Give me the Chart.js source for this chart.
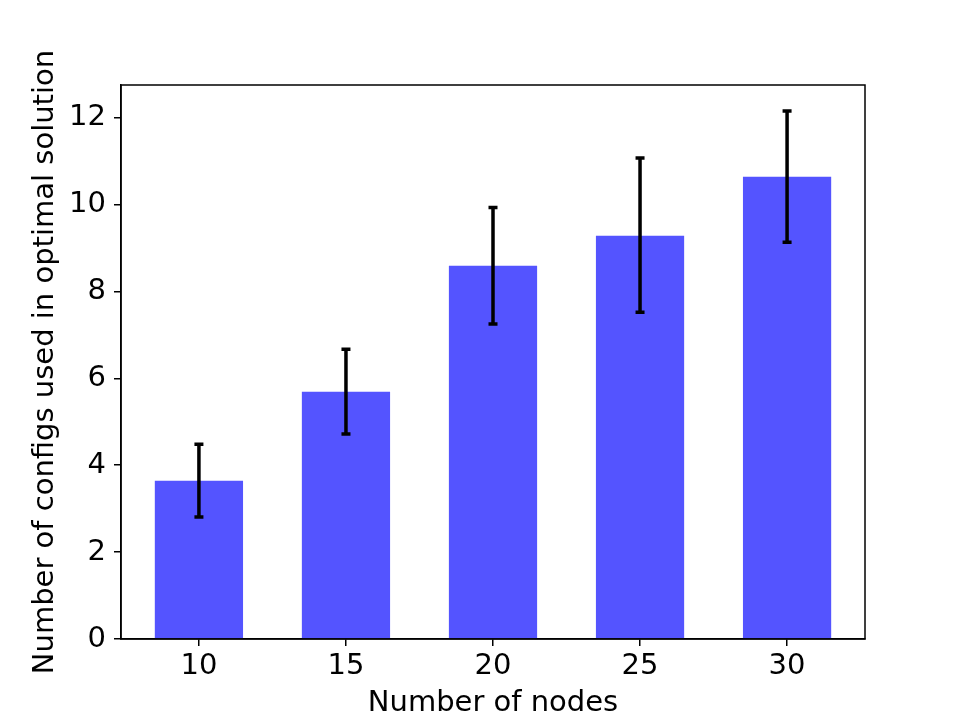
<!DOCTYPE html>
<html>
<head>
<meta charset="utf-8">
<script src="https://cdn.jsdelivr.net/npm/chart.js@4"></script>
<style>
  body { margin: 0; background: #fff; }
  #wrap { width: 961px; height: 719px; }
</style>
</head>
<body>
<div id="wrap"><canvas id="myChart" width="961" height="719"></canvas></div>
<script>
// Datos del gráfico
var nodos = ['10', '15', '20', '25', '30'];
var medias = [3.64, 5.69, 8.59, 9.28, 10.64];
var errSup = [4.48, 6.67, 9.93, 11.07, 12.15];
var errInf = [2.81, 4.72, 7.25, 7.52, 9.13];
var ticksY = [0, 2, 4, 6, 8, 10, 12];

var fuente = 'DejaVu Sans';

// Barras de error y marco completo
var pluginErrores = {
    id: 'errores',
    afterDatasetsDraw: function (chart) {
        var ctx = chart.ctx;
        var x = chart.scales.x;
        var y = chart.scales.y;
        ctx.save();
        ctx.strokeStyle = '#000';
        ctx.lineWidth = 3.5;
        ctx.lineCap = 'butt';
        for (var i = 0; i < medias.length; i++) {
            var px = x.getPixelForValue(i);
            var yTop = y.getPixelForValue(errSup[i]);
            var yBot = y.getPixelForValue(errInf[i]);
            ctx.beginPath();
            ctx.moveTo(px, yTop);
            ctx.lineTo(px, yBot);
            ctx.moveTo(px - 4.5, yTop);
            ctx.lineTo(px + 4.5, yTop);
            ctx.moveTo(px - 4.5, yBot);
            ctx.lineTo(px + 4.5, yBot);
            ctx.stroke();
        }
        var a = chart.chartArea;
        ctx.lineWidth = 1.5;
        ctx.strokeRect(a.left, a.top, a.right - a.left, a.bottom - a.top);
        ctx.restore();
    }
};

var ctx = document.getElementById('myChart').getContext('2d');
var myChart = new Chart(ctx, {
    type: 'bar',
    data: {
        datasets: [{
            data: medias.map(function (v, i) { return { x: i, y: v }; }),
            backgroundColor: 'rgb(84, 84, 255)',
            borderWidth: 0,
            barPercentage: 0.6,
            categoryPercentage: 1
        }]
    },
    options: {
        responsive: false,
        animation: false,
        events: [],
        layout: { padding: { left: 0, right: 96, top: 85, bottom: 0 } },
        plugins: { legend: { display: false }, tooltip: { enabled: false } },
        scales: {
            x: {
                type: 'linear',
                min: -0.53,
                max: 4.53,
                offset: false,
                afterBuildTicks: function (axis) {
                    axis.ticks = nodos.map(function (n, i) { return { value: i }; });
                },
                afterFit: function (axis) { axis.height = 80; },
                grid: { offset: false, drawOnChartArea: false, drawTicks: true, tickLength: 7, color: '#000', lineWidth: 1.5 },
                border: { display: true, color: '#000', width: 1.5 },
                ticks: {
                    padding: 6,
                    color: '#000',
                    maxRotation: 0,
                    autoSkip: false,
                    font: { family: fuente, size: 29, lineHeight: 1 },
                    callback: function (v) { return nodos[v]; }
                },
                title: {
                    display: true,
                    text: 'Number of nodes',
                    color: '#000',
                    font: { family: fuente, size: 29, lineHeight: 1 },
                    padding: { top: 0, bottom: 1 }
                }
            },
            y: {
                min: 0,
                max: 12.75,
                afterBuildTicks: function (axis) {
                    axis.ticks = ticksY.map(function (v) { return { value: v }; });
                },
                afterFit: function (axis) { axis.width = 121; },
                grid: { drawOnChartArea: false, drawTicks: true, tickLength: 7, color: '#000', lineWidth: 1.5 },
                border: { display: true, color: '#000', width: 1.5 },
                ticks: {
                    padding: 8,
                    color: '#000',
                    font: { family: fuente, size: 29, lineHeight: 1 }
                },
                title: {
                    display: true,
                    text: 'Number of configs used in optimal solution',
                    color: '#000',
                    font: { family: fuente, size: 29, lineHeight: 1 },
                    padding: { top: 31, bottom: 0 }
                }
            }
        }
    },
    plugins: [pluginErrores]
});
</script>
</body>
</html>
